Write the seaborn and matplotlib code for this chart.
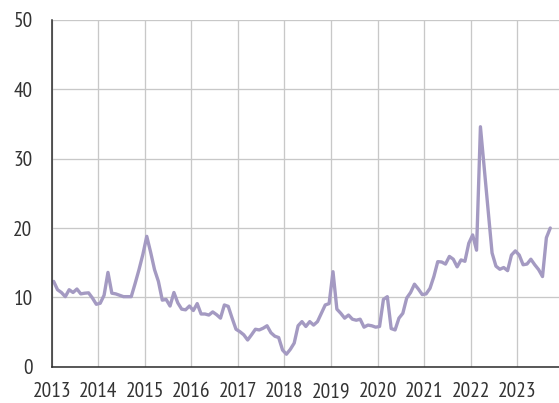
import numpy as np
import pandas as pd
import matplotlib
matplotlib.use("Agg")
import matplotlib.pyplot as plt
from matplotlib import font_manager
import seaborn as sns

# Monthly series, January 2013 to September 2023
years = [2013, 2014, 2015, 2016, 2017, 2018, 2019, 2020, 2021, 2022, 2023]
values_2013 = [12.3, 11.1, 10.7, 10.1, 11.1, 10.7, 11.2, 10.5, 10.6, 10.65, 9.9, 9.0]
values_2014 = [9.15, 10.3, 13.6, 10.6, 10.5, 10.3, 10.1, 10.1, 10.1, 12.0, 14.0, 16.2]
values_2015 = [18.8, 16.5, 14.0, 12.3, 9.6, 9.7, 8.75, 10.7, 9.2, 8.3, 8.2, 8.75]
values_2016 = [8.1, 9.1, 7.6, 7.6, 7.45, 7.9, 7.5, 7.0, 8.9, 8.7, 7.0, 5.4]
values_2017 = [5.05, 4.6, 3.85, 4.6, 5.4, 5.3, 5.55, 5.9, 4.9, 4.4, 4.2, 2.4]
values_2018 = [1.8, 2.5, 3.4, 5.9, 6.5, 5.8, 6.5, 6.0, 6.5, 7.7, 8.9, 9.1]
values_2019 = [13.7, 8.3, 7.7, 7.0, 7.45, 6.85, 6.7, 6.85, 5.7, 6.0, 5.9, 5.7]
values_2020 = [5.8, 9.7, 10.1, 5.5, 5.3, 7.0, 7.7, 9.9, 10.7, 11.9, 11.2, 10.4]
values_2021 = [10.5, 11.3, 13.0, 15.15, 15.1, 14.8, 15.9, 15.5, 14.4, 15.4, 15.2, 17.8]
values_2022 = [19.0, 16.8, 34.6, 28.5, 22.3, 16.4, 14.5, 14.05, 14.3, 13.85, 16.1, 16.7]
values_2023 = [16.1, 14.7, 14.8, 15.5, 14.7, 14.0, 13.0, 18.6, 20.0]

y_ticks = [0, 10, 20, 30, 40, 50]
x_ticks = years

series = (values_2013 + values_2014 + values_2015 + values_2016 + values_2017
          + values_2018 + values_2019 + values_2020 + values_2021 + values_2022
          + values_2023)
# mid-month positions in decimal years
dates = [years[0] + (i + 0.5) / 12 for i in range(len(series))]
df = pd.DataFrame({"date": dates, "value": series})

sns.set_style("white")
available = {f.name for f in font_manager.fontManager.ttflist}
preferred = ["PT Sans Narrow", "Archivo Narrow", "Roboto Condensed",
             "Liberation Sans Narrow", "Roboto"]
family = next(name for name in preferred if name in available)
plt.rcParams["font.family"] = [family, "DejaVu Sans"]

fig = plt.figure(figsize=(5.59, 4.03), dpi=100)
ax = fig.add_axes([0.0925, 0.0901, 0.9075, 0.8603])

sns.lineplot(data=df, x="date", y="value", ax=ax, color="#a49ac2",
             linewidth=2.4, zorder=3)

ax.set_xlim(2013, 2023.896)
ax.set_ylim(0, 50)
ax.set_xticks(x_ticks)
ax.set_yticks(y_ticks)
ax.set_xticklabels([str(y) for y in x_ticks])
ax.set_yticklabels([str(v) for v in y_ticks])
ax.set_xlabel("")
ax.set_ylabel("")

ax.grid(True, color="#c8c8c8", linewidth=0.95, zorder=0)
ax.set_axisbelow(True)

for side in ("top", "right"):
    ax.spines[side].set_visible(False)
for side in ("left", "bottom"):
    ax.spines[side].set_color("#2b2b2b")
    ax.spines[side].set_linewidth(1.1)
    ax.spines[side].set_zorder(4)

ax.tick_params(axis="both", which="major", direction="out", length=4.8,
               width=1.1, color="#2b2b2b", labelsize=15.4, labelcolor="#333333")
ax.tick_params(axis="x", pad=6.5)
ax.tick_params(axis="y", pad=9)

fig.savefig("out.png", dpi=100)
